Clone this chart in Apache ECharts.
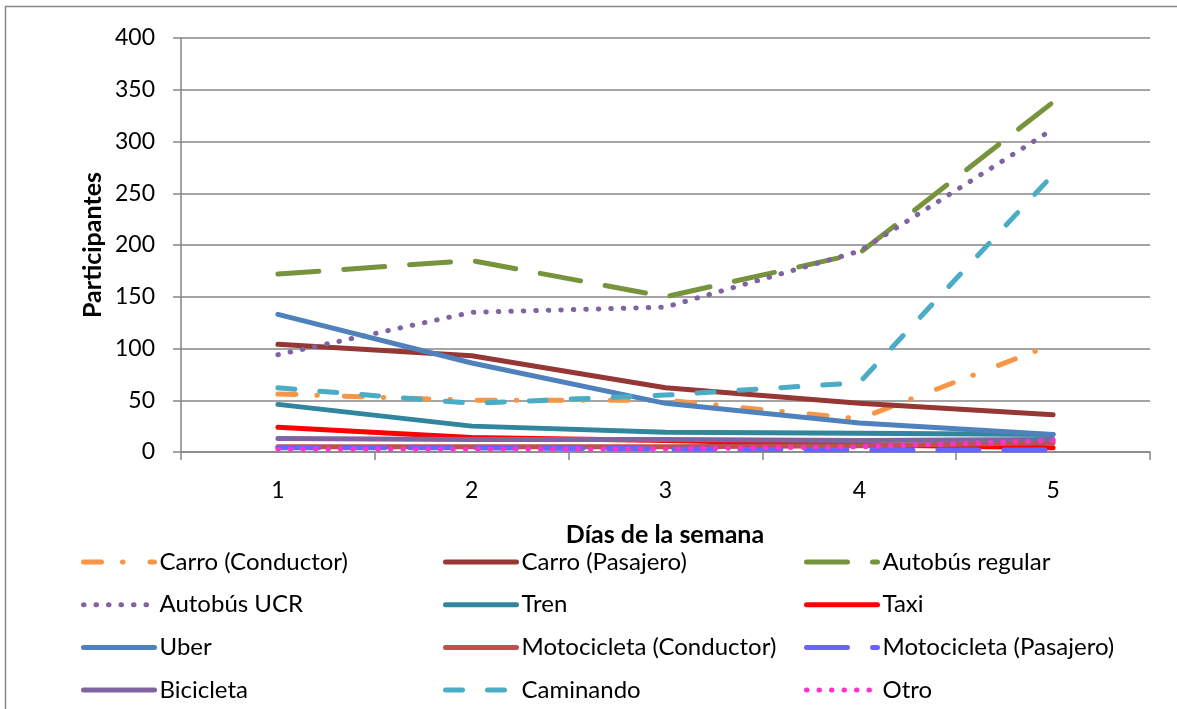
<!DOCTYPE html>
<html>
<head>
<meta charset="utf-8">
<script src="https://cdn.jsdelivr.net/npm/echarts@6/dist/echarts.min.js"></script>
<style>
html,body{margin:0;padding:0;background:#fff;}
#chart{width:1177px;height:709px;}
</style>
</head>
<body>
<div id="chart"></div>
<script>
// ---- Data ----
var days = ['1', '2', '3', '4', '5'];
var yTicks = [0, 50, 100, 150, 200, 250, 300, 350, 400];

var carroConductor = [56, 50, 50, 32, 104];
var carroPasajero = [104, 93, 62, 47, 36];
var autobusRegular = [172, 185, 150, 192, 338];
var autobusUCR = [94, 135, 140, 194, 312];
var tren = [46, 25, 19, 18, 17];
var taxi = [24, 14, 11, 7, 4];
var uber = [133, 86, 47, 28, 17];
var motoConductor = [5, 5, 5, 6, 9];
var motoPasajero = [4, 4, 3, 2, 2];
var bicicleta = [13, 12, 12, 11, 12];
var caminando = [62, 47, 55, 67, 268];
var otro = [3, 3, 3, 5, 11];

var seriesNames = ['Carro (Conductor)', 'Carro (Pasajero)', 'Autobús regular', 'Autobús UCR', 'Tren', 'Taxi',
  'Uber', 'Motocicleta (Conductor)', 'Motocicleta (Pasajero)', 'Bicicleta', 'Caminando', 'Otro'];
var seriesData = [carroConductor, carroPasajero, autobusRegular, autobusUCR, tren, taxi,
  uber, motoConductor, motoPasajero, bicicleta, caminando, otro];

// ---- Styles ----
var colors = ['#F79646', '#953735', '#77933C', '#8064A2', '#31859C', '#FF0000',
  '#4F81BD', '#C0504D', '#6666FF', '#8064A2', '#4BACC6', '#FF33CC'];
var dashes = [[18, 21, 0.5, 27], 'solid', [41, 25], [0.5, 12], 'solid', 'solid',
  'solid', 'solid', [41, 25], 'solid', [17, 25], [0.5, 12]];

var FONT = 'Lato, "Open Sans", sans-serif';
var gray = '#868686';
var LW = 5;

var series = seriesNames.map(function (n, i) {
  return {
    name: n,
    type: 'line',
    data: seriesData[i],
    symbol: 'none',
    showSymbol: false,
    smooth: false,
    z: 2 + i,
    lineStyle: { color: colors[i], width: LW, type: dashes[i], cap: 'round', join: 'round' },
    itemStyle: { color: colors[i] }
  };
});

// legend layout: row-major, 3 columns x 4 rows
var legendColLeft = [81, 443, 804];
var legendRowCenter = [562, 604.7, 647.4, 690];
var legends = seriesNames.map(function (n, i) {
  var col = i % 3, row = Math.floor(i / 3);
  return {
    orient: 'horizontal',
    left: legendColLeft[col],
    top: legendRowCenter[row] - 13,
    padding: 0,
    itemWidth: 71,
    itemHeight: 26,
    data: [n],
    textStyle: { fontFamily: FONT, fontSize: 24, color: '#000', lineHeight: 26 },
    lineStyle: { width: LW, type: 'inherit', cap: 'round' },
    itemStyle: { opacity: 0, borderWidth: 0 },
    selectedMode: false
  };
});

var chart = echarts.init(document.getElementById('chart'), null, { renderer: 'canvas' });
chart.setOption({
  animation: false,
  backgroundColor: '#fff',
  color: colors,
  grid: { left: 181, right: 27, top: 38, bottom: 257, containLabel: false },
  xAxis: {
    type: 'category',
    data: days,
    boundaryGap: true,
    axisLine: { lineStyle: { color: gray, width: 1.5 } },
    axisTick: { show: true, length: 8, inside: false, lineStyle: { color: gray, width: 1.5 } },
    axisLabel: { fontFamily: FONT, fontSize: 23, color: '#000', margin: 27 },
    splitLine: { show: false }
  },
  yAxis: {
    type: 'value',
    min: yTicks[0],
    max: yTicks[yTicks.length - 1],
    interval: 50,
    axisLine: { show: true, lineStyle: { color: gray, width: 1.5 } },
    axisTick: { show: true, length: 8, lineStyle: { color: gray, width: 1.5 } },
    axisLabel: { fontFamily: FONT, fontSize: 23, color: '#000', margin: 26 },
    splitLine: { show: true, lineStyle: { color: gray, width: 1.5 } }
  },
  legend: legends,
  graphic: [
    { type: 'rect', shape: { x: 5.5, y: 6.5, width: 1300, height: 900 }, style: { fill: 'none', stroke: gray, lineWidth: 1.5 }, silent: true },
    { type: 'text', x: 665, y: 535, style: { text: 'Días de la semana', font: 'bold 25px ' + FONT, fill: '#000', textAlign: 'center', textVerticalAlign: 'middle' } },
    { type: 'text', x: 93, y: 245, rotation: Math.PI / 2, style: { text: 'Participantes', font: 'bold 25px ' + FONT, fill: '#000', textAlign: 'center', textVerticalAlign: 'middle' } }
  ],
  series: series
});
</script>
</body>
</html>
